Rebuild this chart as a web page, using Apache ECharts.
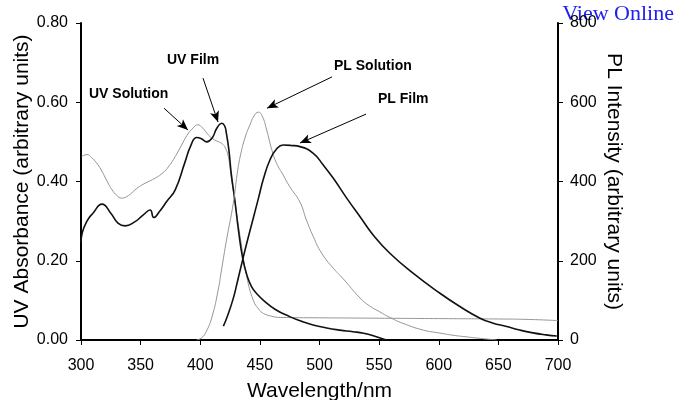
<!DOCTYPE html>
<html>
<head>
<meta charset="utf-8">
<script src="https://cdn.jsdelivr.net/npm/echarts@6/dist/echarts.min.js"></script>
<style>
  html, body { margin: 0; padding: 0; background: #fff; }
  #chart { width: 674px; height: 400px; }
</style>
</head>
<body>
<div id="chart"></div>
<script>
// wavelength (nm), absorbance — left axis
const uvSolution = [
  [300.5, 0.463], [305, 0.468], [309, 0.46], [313, 0.447], [317, 0.429], [322, 0.40],
  [326, 0.379], [330, 0.365], [334, 0.358], [340, 0.365], [345, 0.378], [351, 0.391],
  [360, 0.405], [368, 0.42], [374, 0.44], [379, 0.463], [384, 0.49], [389, 0.517],
  [394, 0.535], [398, 0.543], [402, 0.535], [407, 0.517], [412, 0.505], [418, 0.496],
  [421, 0.485], [423.5, 0.463], [426, 0.41], [430, 0.33], [434, 0.25], [439, 0.16],
  [444.5, 0.10], [449, 0.078], [453, 0.067], [460, 0.06], [467, 0.057], [500, 0.056],
  [550, 0.055], [600, 0.054], [650, 0.053], [674, 0.052], [700, 0.049]
]
const uvFilm = [
  [300, 0.245], [301, 0.27], [305, 0.30], [310, 0.32], [317.6, 0.343], [325, 0.32],
  [331, 0.295], [337, 0.288], [345, 0.298], [352, 0.315], [358, 0.328], [361, 0.309],
  [366, 0.325], [372, 0.35], [379, 0.379], [387, 0.447], [392, 0.49], [397, 0.511],
  [401, 0.508], [405.4, 0.50], [410, 0.51], [414, 0.535], [418, 0.547], [420.5, 0.54],
  [422, 0.52], [424, 0.48], [426, 0.42], [429, 0.353], [432, 0.278], [435.6, 0.206],
  [439, 0.165], [443, 0.135], [448, 0.115], [453, 0.10], [463, 0.077], [475, 0.059],
  [485, 0.047], [494.6, 0.038], [505, 0.031], [517, 0.025], [528, 0.021], [537, 0.017],
  [547, 0.009], [556, 0.0]
]
// wavelength (nm), PL intensity — right axis
const plSolution = [
  [397, 0], [401, 5], [405, 21], [410, 60], [415, 126], [418, 180], [422, 252],
  [427.7, 345], [431, 420], [434, 470], [438, 515], [441.7, 543], [445, 565],
  [448.7, 575], [452, 565], [455.7, 530], [460, 480], [464, 446], [469.6, 416],
  [475, 387], [483.6, 348], [489, 303], [494.8, 261], [501.8, 219], [511.6, 181],
  [520, 154], [534, 106], [542, 86], [550, 72], [559, 57], [570, 42], [587, 25],
  [600, 18], [612, 12], [623, 8], [635, 4], [648.6, 0]
]
const plFilm = [
  [419.4, 35], [423, 62], [427.7, 105], [431, 145], [435.6, 203], [440, 256],
  [444.5, 308], [449, 360], [453, 407], [458.5, 455], [464, 482], [469.6, 492],
  [476, 491], [483.6, 488], [494.8, 471], [503, 442], [511.6, 408], [522.8, 358],
  [534, 311], [545, 265], [559, 219], [578.7, 168], [601, 118], [618, 84],
  [634.6, 55], [645, 43], [657, 34], [668, 25], [679, 18], [690, 13], [699, 10]
]

const axisFont = 'Liberation Sans, Arial, sans-serif'

const chart = echarts.init(document.getElementById('chart'))

// arrow pointing at a curve, in that curve's own axis units
function arrow(from, to) {
  return {
    silent: true,
    animation: false,
    symbol: ['none', 'arrow'],
    symbolSize: [7, 11],
    label: { show: false },
    lineStyle: { color: '#000', width: 1, type: 'solid' },
    data: [[{ coord: from }, { coord: to }]]
  }
}

function label(text, x, y) {
  return {
    type: 'text',
    left: x,
    top: y,
    style: { text: text, font: 'bold 14px ' + axisFont, fill: '#000' }
  }
}

chart.setOption({
  animation: false,
  grid: { left: 81, right: 116, top: 23, bottom: 60, outerBoundsMode: 'none' },
  xAxis: [{
    type: 'value',
    min: 300,
    max: 700,
    interval: 50,
    name: 'Wavelength/nm',
    nameLocation: 'middle',
    nameGap: 41,
    nameMoveOverlap: false,
    nameTextStyle: { fontSize: 21, color: '#000', fontFamily: axisFont },
    axisLine: { lineStyle: { color: '#000', width: 2 } },
    axisTick: { length: 5, lineStyle: { color: '#000' } },
    axisLabel: { fontSize: 16, color: '#000', fontFamily: axisFont, margin: 18 },
    splitLine: { show: false }
  }, {
    // top frame line
    type: 'value',
    position: 'top',
    min: 300,
    max: 700,
    axisLine: { lineStyle: { color: '#000', width: 1.5 } },
    axisTick: { show: false },
    axisLabel: { show: false },
    splitLine: { show: false }
  }],
  yAxis: [{
    type: 'value',
    min: 0,
    max: 0.8,
    interval: 0.2,
    name: 'UV Absorbance (arbitrary units)',
    nameLocation: 'middle',
    nameGap: 48,
    nameMoveOverlap: false,
    nameTextStyle: { fontSize: 21, color: '#000', fontFamily: axisFont },
    axisLine: { show: true, lineStyle: { color: '#000', width: 2 } },
    axisTick: { show: true, length: 5, lineStyle: { color: '#000' } },
    axisLabel: {
      fontSize: 16, color: '#000', fontFamily: axisFont, margin: 13,
      formatter: v => v.toFixed(2)
    },
    splitLine: { show: false }
  }, {
    type: 'value',
    position: 'right',
    min: 0,
    max: 800,
    interval: 200,
    name: 'PL Intensity (arbitrary units)',
    nameLocation: 'middle',
    nameGap: 45,
    nameRotate: -90,
    nameMoveOverlap: false,
    nameTextStyle: { fontSize: 21, color: '#000', fontFamily: axisFont },
    axisLine: { show: true, lineStyle: { color: '#000', width: 2 } },
    axisTick: { show: true, length: 5, lineStyle: { color: '#000' } },
    axisLabel: { fontSize: 16, color: '#000', fontFamily: axisFont, margin: 12 },
    splitLine: { show: false }
  }],
  series: [{
    name: 'UV Solution',
    type: 'line',
    smooth: true,
    showSymbol: false,
    data: uvSolution,
    lineStyle: { color: '#959595', width: 1 },
    markLine: arrow([369.6, 0.585], [389.7, 0.53])
  }, {
    name: 'UV Film',
    type: 'line',
    smooth: true,
    showSymbol: false,
    data: uvFilm,
    lineStyle: { color: '#111', width: 1.6 },
    markLine: arrow([402.3, 0.661], [414.9, 0.55])
  }, {
    name: 'PL Solution',
    type: 'line',
    yAxisIndex: 1,
    smooth: true,
    showSymbol: false,
    data: plSolution,
    lineStyle: { color: '#959595', width: 1 },
    markLine: arrow([510.5, 664], [456, 585])
  }, {
    name: 'PL Film',
    type: 'line',
    yAxisIndex: 1,
    smooth: true,
    showSymbol: false,
    data: plFilm,
    lineStyle: { color: '#111', width: 1.6 },
    markLine: arrow([539, 570], [483.6, 497])
  }],
  graphic: [
    label('UV Solution', 89, 87),
    label('UV Film', 167, 53),
    label('PL Solution', 334, 59),
    label('PL Film', 378, 92),
    {
      type: 'text',
      right: 0,
      top: 3,
      style: { text: 'View Online', font: '22px Liberation Serif, Times New Roman, serif', fill: '#2020ee' }
    }
  ]
})
</script>
</body>
</html>
